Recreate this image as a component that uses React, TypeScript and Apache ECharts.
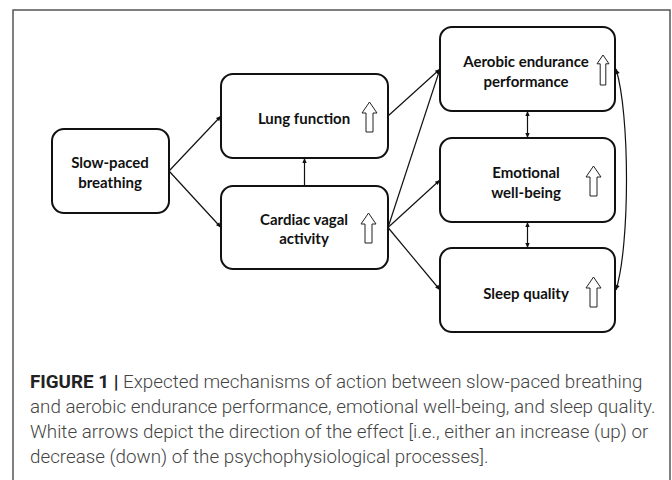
import React, { useEffect, useRef } from "react";
import * as echarts from "echarts";

// Node labels (one array of lines per node)
const nodeIds = ["slow", "lung", "cardiac", "aerobic", "emotional", "sleep"];
const nodeLabels = [
  ["Slow-paced", "breathing"],
  ["Lung function"],
  ["Cardiac vagal", "activity"],
  ["Aerobic endurance", "performance"],
  ["Emotional", "well-being"],
  ["Sleep quality"],
];
const nodeEffect = ["", "up", "up", "up", "up", "up"];

// Edges: [from, to, bothEnds]
const edgeFrom = ["slow", "slow", "cardiac", "lung", "cardiac", "cardiac", "cardiac", "aerobic", "emotional"];
const edgeTo = ["lung", "cardiac", "lung", "aerobic", "aerobic", "emotional", "sleep", "emotional", "sleep"];
const edgeBoth = [false, false, false, false, false, false, false, true, true];

const captionLines = [
  "Expected mechanisms of action between slow-paced breathing",
  "and aerobic endurance performance, emotional well-being, and sleep quality.",
  "White arrows depict the direction of the effect [i.e., either an increase (up) or",
  "decrease (down) of the psychophysiological processes].",
];
const captionTitle = "FIGURE 1 |";

// Layout (positions and sizes)
const layout: Record<string, { x: number; y: number; w: number; h: number; tx: number; ty: number; ax: number; ay: number; as: number }> = {
  slow: { x: 52, y: 129, w: 117, h: 84, tx: 110, ty: 172, ax: 0, ay: 0, as: 1 },
  lung: { x: 221, y: 74, w: 167, h: 84, tx: 304, ty: 117.5, ax: 362, ay: 102, as: 1 },
  cardiac: { x: 221, y: 186, w: 167, h: 83, tx: 304, ty: 228.5, ax: 361, ay: 213, as: 1 },
  aerobic: { x: 440, y: 27, w: 175, h: 84, tx: 526, ty: 71, ax: 597, ay: 55, as: 0.8 },
  emotional: { x: 440, y: 138, w: 175, h: 84, tx: 526, ty: 182, ax: 586, ay: 166, as: 1 },
  sleep: { x: 440, y: 248, w: 175, h: 84, tx: 526, ty: 292.5, ax: 586, ay: 277, as: 1 },
};

function anchor(id: string, side: string) {
  const b = layout[id];
  if (side === "l") return [b.x, b.y + b.h / 2];
  if (side === "r") return [b.x + b.w, b.y + b.h / 2];
  if (side === "t") return [b.x + b.w / 2, b.y];
  return [b.x + b.w / 2, b.y + b.h];
}

function head(p: number[], q: number[], len = 5, hw = 2.2) {
  const dx = q[0] - p[0];
  const dy = q[1] - p[1];
  const d = Math.sqrt(dx * dx + dy * dy);
  const ux = dx / d, uy = dy / d;
  const bx = q[0] - ux * len, by = q[1] - uy * len;
  return {
    type: "polygon",
    shape: { points: [q, [bx - uy * hw, by + ux * hw], [bx + uy * hw, by - ux * hw]] },
    style: { fill: "#111" },
  };
}

export default function App() {
  const ref = useRef<HTMLDivElement>(null);
  useEffect(() => {
    if (!ref.current) return;
    const chart = echarts.init(ref.current, null, { renderer: "svg" });
    const els: any[] = [];
    // outer frame
    els.push({
      type: "rect",
      shape: { x: 13, y: 10, width: 657, height: 490 },
      style: { fill: "#fff", stroke: "#555", lineWidth: 1.5 },
    });
    // edges
    edgeFrom.forEach((f, i) => {
      const t = edgeTo[i];
      let p: number[], q: number[];
      if (layout[f].x === layout[t].x) {
        if (layout[f].y > layout[t].y) { p = anchor(f, "t"); q = anchor(t, "b"); }
        else { p = anchor(f, "b"); q = anchor(t, "t"); }
      } else {
        p = anchor(f, "r"); q = anchor(t, "l");
      }
      els.push({
        type: "line",
        shape: { x1: p[0], y1: p[1], x2: q[0], y2: q[1] },
        style: { stroke: "#111", lineWidth: 1.2 },
      });
      els.push(head(p, q));
      if (edgeBoth[i]) els.push(head(q, p));
    });
    // curved edge aerobic <-> sleep on right
    const a = anchor("aerobic", "r");
    const s = anchor("sleep", "r");
    els.push({
      type: "bezierCurve",
      shape: { x1: a[0] + 1, y1: a[1], x2: s[0] + 1, y2: s[1], cpx1: a[0] + 15, cpy1: a[1] + 45, cpx2: s[0] + 15, cpy2: s[1] - 45 },
      style: { stroke: "#111", lineWidth: 1.2, fill: null },
    });
    els.push(head([a[0] + 5, a[1] + 12], [a[0] + 1, a[1]]));
    els.push(head([s[0] + 5, s[1] - 12], [s[0] + 1, s[1]]));
    // boxes
    nodeIds.forEach((id, i) => {
      const b = layout[id];
      els.push({
        type: "rect",
        shape: { x: b.x, y: b.y, width: b.w, height: b.h, r: 12 },
        style: { fill: "#fff", stroke: "#111", lineWidth: 2 },
      });
      const lines = nodeLabels[i];
      lines.forEach((ln, k) => {
        els.push({
          type: "text",
          x: b.tx,
          y: b.ty + (k - (lines.length - 1) / 2) * 19.5,
          style: {
            text: ln,
            font: "bold 15px Lato",
            fill: "#111",
            align: "center",
            verticalAlign: "middle",
          },
        });
      });
      if (nodeEffect[i] === "up") {
        const sc = b.as;
        const x0 = b.ax, y0 = b.ay;
        const w = 15 * sc, sw = 7 * sc, hh = 11 * sc;
        const H = 30;
        const cx = x0 + w / 2;
        els.push({
          type: "polygon",
          shape: {
            points: [
              [cx, y0],
              [cx + w / 2, y0 + hh],
              [cx + sw / 2, y0 + hh],
              [cx + sw / 2, y0 + H],
              [cx - sw / 2, y0 + H],
              [cx - sw / 2, y0 + hh],
              [cx - w / 2, y0 + hh],
            ],
          },
          style: { fill: "#fff", stroke: "#222", lineWidth: 1 },
        });
      }
    });
    // caption
    captionLines.forEach((ln, k) => {
      els.push({
        type: "text",
        x: 30,
        y: 382 + k * 25,
        style: {
          text: k === 0 ? "{b|" + captionTitle + "} " + ln : ln,
          font: "300 18.8px Roboto",
          fill: "#444",
          verticalAlign: "middle",
          rich: {
            b: { font: "bold 18.8px Roboto", fill: "#222" },
          },
        },
      });
    });
    chart.setOption({ animation: false, graphic: { elements: els } });
    return () => chart.dispose();
  }, []);
  return (
    <div
      ref={ref}
      style={{ position: "fixed", left: 0, top: 0, width: 672, height: 480, background: "#fff" }}
    />
  );
}
